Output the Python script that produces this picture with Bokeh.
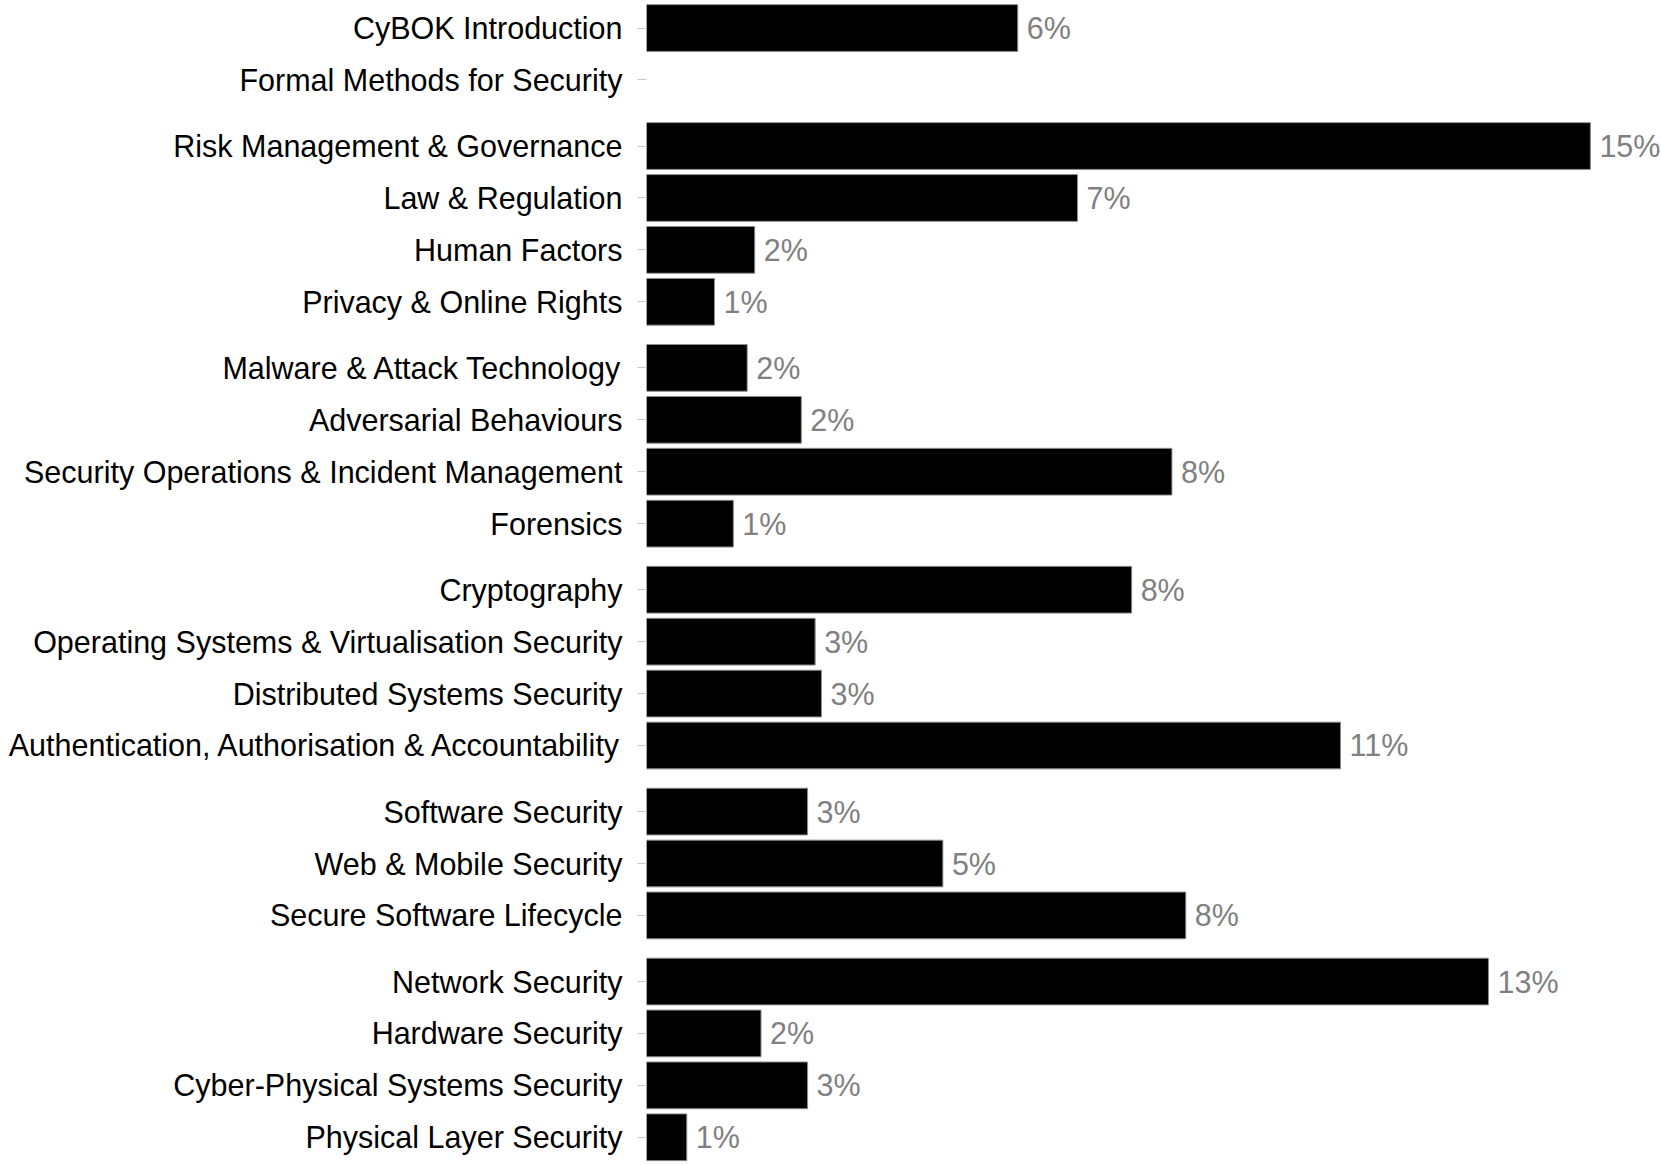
from bokeh.plotting import figure
from bokeh.models import ColumnDataSource, Range1d, FixedTicker
from bokeh.core.properties import value
from bokeh.embed import file_html
from bokeh.resources import INLINE

categories = [
    "CyBOK Introduction",
    "Formal Methods for Security",
    "Risk Management & Governance",
    "Law & Regulation",
    "Human Factors",
    "Privacy & Online Rights",
    "Malware & Attack Technology",
    "Adversarial Behaviours",
    "Security Operations & Incident Management",
    "Forensics",
    "Cryptography",
    "Operating Systems & Virtualisation Security",
    "Distributed Systems Security",
    "Authentication, Authorisation & Accountability",
    "Software Security",
    "Web & Mobile Security",
    "Secure Software Lifecycle",
    "Network Security",
    "Hardware Security",
    "Cyber-Physical Systems Security",
    "Physical Layer Security",
]
groups = [0, 0, 1, 1, 1, 1, 2, 2, 2, 2, 3, 3, 3, 3, 4, 4, 4, 5, 5, 5, 5]
values = [5.9, 0.0, 15.0, 6.85, 1.72, 1.08, 1.6, 2.46, 8.35, 1.38,
          7.71, 2.68, 2.78, 11.03, 2.56, 4.71, 8.57, 13.38, 1.82, 2.56, 0.64]
pct_labels = ["6%", "", "15%", "7%", "2%", "1%", "2%", "2%", "8%", "1%",
              "8%", "3%", "3%", "11%", "3%", "5%", "8%", "13%", "2%", "3%", "1%"]

FONT = "Liberation Sans"
FS = "30.5px"
GAP = 0.273
SCALE = 1000

ypos = [int(round((i + g * GAP) * SCALE)) for i, g in enumerate(groups)]
bar_vals = [v if v > 0 else float("nan") for v in values]

src = ColumnDataSource(dict(y=ypos, v=bar_vals, lab=pct_labels, cat=categories))

p = figure(width=1661, height=1163, output_backend="svg", toolbar_location=None,
           x_range=Range1d(0, 16.13),
           y_range=Range1d(21.870 * SCALE, -0.530 * SCALE),
           min_border_left=646, min_border_right=0, min_border_top=0, min_border_bottom=0)

p.hbar(y="y", right="v", left=0, height=0.9 * SCALE, source=src,
       fill_color="black", line_color="#8c8c8c", line_width=1)
p.text(x="v", y="y", text="lab", source=src, x_offset=9,
       text_align="left", text_baseline="middle",
       text_font=value(FONT), text_font_size=FS, text_color="#808080")

p.xaxis.visible = False
p.xgrid.grid_line_color = None
p.ygrid.grid_line_color = None
p.outline_line_color = None

ax = p.yaxis[0]
ax.ticker = FixedTicker(ticks=ypos)
ax.major_label_overrides = {y: c for y, c in zip(ypos, categories)}
ax.axis_line_color = None
ax.major_tick_line_color = "#c8c8c8"
ax.major_tick_line_width = 1
ax.major_tick_out = 9
ax.major_tick_in = 0
ax.minor_tick_line_color = None
ax.major_label_standoff = 15
ax.major_label_text_font = FONT
ax.major_label_text_font_size = FS
ax.major_label_text_color = "black"

open("out.html", "w").write(file_html(p, INLINE))
